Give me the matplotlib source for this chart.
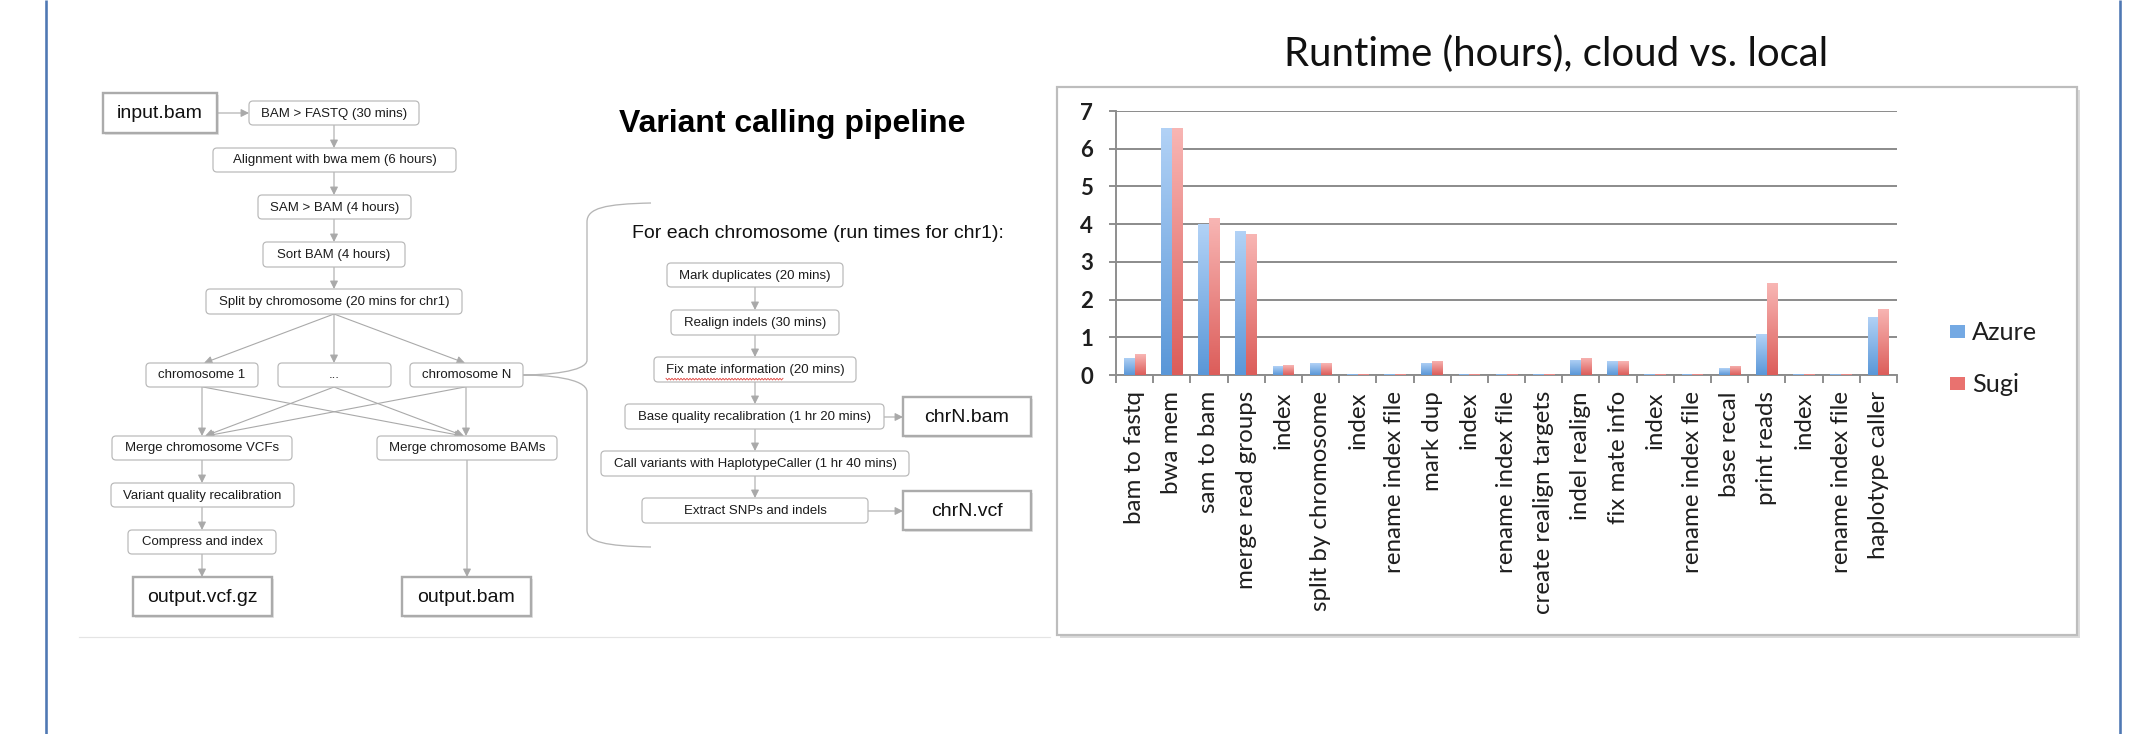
import numpy as np
import matplotlib
matplotlib.use("Agg")
import matplotlib.pyplot as plt
from matplotlib.patches import Rectangle, FancyBboxPatch, FancyArrowPatch, PathPatch
from matplotlib.path import Path
from matplotlib.colors import LinearSegmentedColormap

# ---------------- data ----------------
categories = ["bam to fastq", "bwa mem", "sam to bam", "merge read groups", "index",
              "split by chromosome", "index", "rename index file", "mark dup", "index",
              "rename index file", "create realign targets", "indel realign", "fix mate info",
              "index", "rename index file", "base recal", "print reads", "index",
              "rename index file", "haplotype caller"]
azure = [0.46, 6.55, 4.00, 3.81, 0.23, 0.31, 0.02, 0.02, 0.32, 0.02, 0.02, 0.02,
         0.41, 0.36, 0.02, 0.02, 0.18, 1.08, 0.02, 0.02, 1.54]
sugi = [0.55, 6.55, 4.16, 3.75, 0.26, 0.31, 0.02, 0.02, 0.38, 0.02, 0.02, 0.02,
        0.46, 0.37, 0.02, 0.02, 0.24, 2.43, 0.02, 0.02, 1.76]
series_names = ["Azure", "Sugi"]
y_ticks = [0, 1, 2, 3, 4, 5, 6, 7]
chart_title = "Runtime (hours), cloud vs. local"

diagram_title = "Variant calling pipeline"
loop_caption = "For each chromosome (run times for chr1):"
step_labels = ["BAM > FASTQ (30 mins)", "Alignment with bwa mem (6 hours)",
               "SAM > BAM (4 hours)", "Sort BAM (4 hours)",
               "Split by chromosome (20 mins for chr1)",
               "chromosome 1", "...", "chromosome N",
               "Merge chromosome VCFs", "Merge chromosome BAMs",
               "Variant quality recalibration", "Compress and index",
               "Mark duplicates (20 mins)", "Realign indels (30 mins)",
               "Fix mate information (20 mins)",
               "Base quality recalibration (1 hr 20 mins)",
               "Call variants with HaplotypeCaller (1 hr 40 mins)",
               "Extract SNPs and indels"]
file_labels = ["input.bam", "output.vcf.gz", "output.bam", "chrN.bam", "chrN.vcf"]

# ---------------- layout (pixels) ----------------
W, H = 2136, 734
step_boxes = [(249, 101, 419, 125), (213, 148, 456, 172), (258, 195, 411, 219),
              (263, 242, 405, 267), (206, 289, 462, 314),
              (146, 363, 258, 387), (278, 363, 391, 387), (410, 363, 523, 387),
              (112, 436, 292, 460), (377, 436, 557, 460),
              (111, 483, 294, 507), (128, 530, 276, 554),
              (667, 263, 843, 287), (671, 310, 839, 335), (654, 357, 856, 382),
              (625, 404, 884, 429), (601, 451, 909, 476), (642, 498, 868, 523)]
file_boxes = [(103, 93, 217, 133), (133, 577, 272, 616), (402, 577, 531, 616),
              (903, 397, 1031, 436), (903, 491, 1031, 530)]
arrows = [((217, 113), (249, 113)),
          ((334, 125), (334, 148)), ((334, 172), (334, 195)), ((334, 219), (334, 242)),
          ((334, 267), (334, 289)),
          ((334, 314), (204, 363)), ((334, 314), (334, 363)), ((334, 314), (465, 363)),
          ((202, 387), (202, 436)), ((203, 387), (463, 436)),
          ((334, 387), (205, 436)), ((334, 387), (464, 436)),
          ((465, 387), (206, 436)), ((466, 387), (466, 436)),
          ((202, 460), (202, 483)), ((202, 507), (202, 530)), ((202, 554), (202, 577)),
          ((467, 460), (467, 577)),
          ((755, 287), (755, 310)), ((755, 335), (755, 357)), ((755, 382), (755, 404)),
          ((755, 429), (755, 451)), ((755, 476), (755, 498)),
          ((884, 417), (903, 417)), ((868, 511), (903, 511))]

GRAY = "#a9a9a9"
fig = plt.figure(figsize=(W / 100, H / 100), dpi=100)
fig.patch.set_facecolor("white")
ax0 = fig.add_axes([0, 0, 1, 1])
ax0.set_xlim(0, W)
ax0.set_ylim(H, 0)
ax0.axis("off")
ax0.set_zorder(0)

PX = 0.72  # points per pixel at 100 dpi

# outer blue rules and separator
ax0.plot([46, 46], [0, H], color="#4f78b3", lw=2.6 * PX, solid_capstyle="butt")
ax0.plot([2120, 2120], [0, H], color="#4f78b3", lw=2.6 * PX, solid_capstyle="butt")
ax0.plot([79, 1050], [637, 637], color="#e4e4e4", lw=1.2 * PX)

arial = ["Liberation Sans", "DejaVu Sans"]
for lab, (x0, y0, x1, y1) in zip(step_labels, step_boxes):
    ax0.add_patch(FancyBboxPatch((x0, y0), x1 - x0, y1 - y0,
                                 boxstyle="round,pad=0,rounding_size=4",
                                 fc="white", ec="#b9b9b9", lw=1.2 * PX, zorder=3))
    ax0.text((x0 + x1) / 2, (y0 + y1) / 2 + 0.5, lab, ha="center", va="center",
             fontsize=9.5, family=arial, color="#1c1c1c", zorder=4)

for lab, (x0, y0, x1, y1) in zip(file_labels, file_boxes):
    ax0.add_patch(Rectangle((x0 + 1.5, y0 + 1.5), x1 - x0, y1 - y0,
                            fc="#e6e6e6", ec="none", zorder=2))
    ax0.add_patch(Rectangle((x0, y0), x1 - x0, y1 - y0, fc="white",
                            ec="#ababab", lw=2.4 * PX, zorder=3))
    ax0.text((x0 + x1) / 2, (y0 + y1) / 2 + 1, lab, ha="center", va="center",
             fontsize=14, family=arial, color="#111111", zorder=4)

for (p0, p1) in arrows:
    ax0.add_patch(FancyArrowPatch(p0, p1, arrowstyle="-|>,head_length=0.4,head_width=0.2",
                                  mutation_scale=12, color=GRAY, lw=1.1 * PX,
                                  shrinkA=0, shrinkB=0, zorder=2))

# brace linking chromosome N to per-chromosome steps
verts = [(651, 203), (605, 204), (587, 208), (587, 222),
         (587, 360),
         (587, 372), (545, 375), (523, 375),
         (545, 375), (587, 378), (587, 392),
         (587, 530),
         (587, 542), (605, 546), (651, 547)]
codes = [Path.MOVETO, Path.CURVE4, Path.CURVE4, Path.CURVE4,
         Path.LINETO,
         Path.CURVE4, Path.CURVE4, Path.CURVE4,
         Path.CURVE4, Path.CURVE4, Path.CURVE4,
         Path.LINETO,
         Path.CURVE4, Path.CURVE4, Path.CURVE4]
ax0.add_patch(PathPatch(Path(verts, codes), fc="none", ec="#b5b5b5", lw=1.3 * PX, zorder=2))

# spell-check squiggle under "Fix mate information"
sx = np.arange(666, 784.5, 1.5)
sy = np.where(np.arange(len(sx)) % 2 == 0, 378.3, 380.0)
ax0.plot(sx, sy, color="#e0403a", lw=0.6, zorder=5)

ax0.text(619, 124, diagram_title, ha="left", va="center", fontsize=23,
         fontweight="bold", family=arial, color="black")
ax0.text(632, 233, loop_caption, ha="left", va="center", fontsize=14,
         family=arial, color="#111111")

# ---------------- chart ----------------
lato = ["Lato", "DejaVu Sans"]
# frame with shadow
ax0.add_patch(Rectangle((1060, 90), 1020, 548, fc="#dcdcdc", ec="none", zorder=1))
ax0.add_patch(Rectangle((1057, 87), 1020, 548, fc="white", ec="#bdbdbd",
                        lw=2.2 * PX, zorder=1.5))
title_txt = ax0.text(1556, 66, chart_title, ha="center", va="baseline",
                     fontsize=30, family=lato, color="#111111")

ax = fig.add_axes([1116 / W, 1 - 375 / H, (1897 - 1116) / W, (375 - 111) / H])
ax.set_zorder(5)
ax.patch.set_alpha(0)
x = np.arange(len(categories))
bw = 0.29
cmap_a = LinearSegmentedColormap.from_list("az", ["#5a97d8", "#b2d2f6"])
cmap_s = LinearSegmentedColormap.from_list("su", ["#dc5d5a", "#f8b6b4"])
grad = np.linspace(0, 1, 128).reshape(-1, 1)
bars_a = ax.bar(x - bw / 2, azure, bw, color="#7fb0e6", lw=0, zorder=3)
bars_s = ax.bar(x + bw / 2, sugi, bw, color="#ec8b89", lw=0, zorder=3)
for bars, cm in ((bars_a, cmap_a), (bars_s, cmap_s)):
    for b in bars:
        x0, y0 = b.get_x(), b.get_y()
        w_, h_ = b.get_width(), b.get_height()
        im = ax.imshow(grad, cmap=cm, extent=(x0, x0 + w_, y0, y0 + h_), origin="lower",
                       aspect="auto", zorder=3.5, interpolation="bilinear")
        im.set_clip_path(b)

ax.set_xlim(-0.5, len(categories) - 0.5)
ax.set_ylim(0, 7)
ax.set_yticks(y_ticks)
ax.yaxis.grid(True, color="#8c8c8c", lw=1.4 * PX * 1.4)
ax.set_axisbelow(True)
for s in ("top", "right"):
    ax.spines[s].set_visible(False)
for s in ("left", "bottom"):
    ax.spines[s].set_color("#8c8c8c")
    ax.spines[s].set_linewidth(1.9 * PX)
ax.set_xticks(np.arange(-0.5, len(categories), 1.0))
ax.set_xticklabels([])
ax.set_xticks(x, minor=True)
ax.set_xticklabels(categories, minor=True, rotation=90, fontsize=15, family=lato,
                   color="#1e1e1e", va="top", ha="center")
ax.tick_params(axis="x", which="major", length=8 * PX, width=1.9 * PX, color="#8c8c8c",
               direction="out")
ax.tick_params(axis="x", which="minor", length=0, pad=16 * PX)
ax.tick_params(axis="y", length=7 * PX, width=1.9 * PX, color="#8c8c8c", pad=16 * PX)
for t in ax.get_yticklabels():
    t.set_fontsize(16)
    t.set_fontweight("bold")
    t.set_family(lato)
    t.set_color("#1e1e1e")

# legend
leg_cols = ["#74a9e3", "#e9726f"]
leg_y = [331, 383]
leg_txt = []
for name, c, yy in zip(series_names, leg_cols, leg_y):
    ax0.add_patch(Rectangle((1950, yy - 6.5), 15, 13, fc=c, ec="none", zorder=3))
    leg_txt.append(ax0.text(1972, yy + 1, name, ha="left", va="center", fontsize=17,
                            family=lato, color="#1e1e1e", zorder=3))

# fit text sizes to measured widths
fig.canvas.draw()
r = fig.canvas.get_renderer()
def fit(t, target, use_height=False):
    bb = t.get_window_extent(r)
    cur = bb.height if use_height else bb.width
    t.set_fontsize(t.get_fontsize() * target / cur)

fit(title_txt, 543)
lab = [t for t in ax.get_xticklabels(minor=True) if t.get_text() == "create realign targets"][0]
bb = lab.get_window_extent(r)
scale = 225 / bb.height
for t in ax.get_xticklabels(minor=True):
    t.set_fontsize(t.get_fontsize() * scale)
fit(leg_txt[0], 65)
leg_txt[1].set_fontsize(leg_txt[0].get_fontsize())

fig.savefig("out.png", dpi=100, facecolor="white")
